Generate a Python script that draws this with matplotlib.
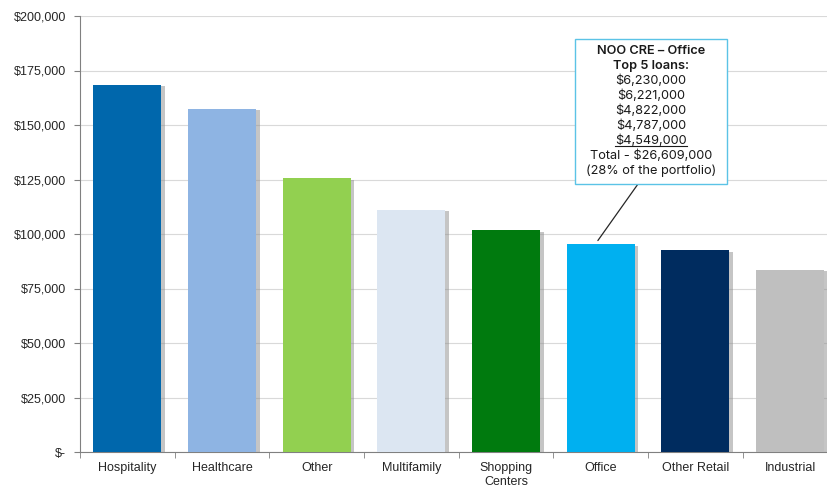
import matplotlib.pyplot as plt
import matplotlib.patheffects as pe
from matplotlib.patches import Rectangle
from matplotlib.ticker import FuncFormatter, MultipleLocator, FixedLocator

plt.rcParams["font.family"] = ["Liberation Sans", "DejaVu Sans"]

categories = ["Hospitality", "Healthcare", "Other", "Multifamily", "Shopping\nCenters",
              "Office", "Other Retail", "Industrial"]
balances = [168500, 157500, 125500, 111200, 101700, 95200, 92500, 83500]
colors = ["#0067AC", "#8EB4E3", "#92D050", "#DCE6F2", "#007A0E",
          "#00B0F0", "#002C5F", "#BFBFBF"]

callout_title = ["NOO CRE \u2013 Office", "Top 5 loans:"]
top_loans = ["$6,230,000", "$6,221,000", "$4,822,000", "$4,787,000", "$4,549,000"]
callout_footer = ["Total - $26,609,000", "(28% of the portfolio)"]

W, H = 827, 492
fig = plt.figure(figsize=(W / 100, H / 100), dpi=100)
ax = fig.add_axes([80 / W, 40 / H, 1 - 80 / W, 436 / H])

x = list(range(len(categories)))
shadow = [pe.SimplePatchShadow(offset=(2.5, -1), shadow_rgbFace="#8c8c8c", alpha=0.5), pe.Normal()]
bars = ax.bar(x, balances, width=0.72, color=colors, zorder=3)
for b in bars:
    b.set_path_effects(shadow)

ax.set_xlim(-0.5, 7.39)
ax.set_ylim(0, 200000)
ax.yaxis.set_major_locator(MultipleLocator(25000))
ax.yaxis.set_major_formatter(FuncFormatter(lambda v, p: "$-" if v == 0 else f"${v:,.0f}"))
ax.grid(axis="y", color="#d9d9d9", linewidth=0.8, zorder=0)

ax.set_xticks(x)
ax.set_xticklabels(categories, fontsize=9, color="#262626", linespacing=1.25)
ax.xaxis.set_minor_locator(FixedLocator([i + 0.5 for i in range(-1, len(categories))]))
ax.tick_params(axis="x", which="major", length=0, pad=7)
ax.tick_params(axis="x", which="minor", length=4, color="#808080")
ax.tick_params(axis="y", length=4, color="#808080", labelsize=9, labelcolor="#262626", pad=6)

for side in ["top", "right"]:
    ax.spines[side].set_visible(False)
ax.spines["left"].set_color("#808080")
ax.spines["bottom"].set_color("#808080")

# callout box for the office segment
bx0, by0, bx1, by1 = 575, 39, 727, 184
fig.patches.append(Rectangle((bx0 / W, 1 - by1 / H), (bx1 - bx0) / W, (by1 - by0) / H,
                             transform=fig.transFigure, facecolor="white",
                             edgecolor="#5BC3E6", linewidth=1.0, zorder=5))
cx = (bx0 + bx1) / 2 / W
lines = callout_title + top_loans + callout_footer
base0, step = 53.5, 15.1
for i, t in enumerate(lines):
    weight = "semibold" if i < 2 else "normal"
    yb = 1 - (base0 + i * step) / H
    txt = fig.text(cx, yb, t, ha="center", va="baseline",
                   fontsize=9.2, family="Inter", weight=weight, color="#1a1a1a", zorder=6)
    if t == top_loans[-1]:
        fig.canvas.draw()
        bb = txt.get_window_extent()
        uy = yb - 1.8 / H
        fig.add_artist(plt.Line2D([bb.x0 / W, bb.x1 / W], [uy, uy],
                                  transform=fig.transFigure, color="#1a1a1a",
                                  linewidth=0.8, zorder=6))

ax.annotate("", xy=(x[5] - 0.03, balances[5] + 1800), xycoords="data",
            xytext=(638 / W, 1 - by1 / H), textcoords="figure fraction",
            arrowprops=dict(arrowstyle="-", color="#262626", linewidth=0.9,
                            shrinkA=0, shrinkB=0), zorder=6)

fig.savefig("out.png", dpi=100)
